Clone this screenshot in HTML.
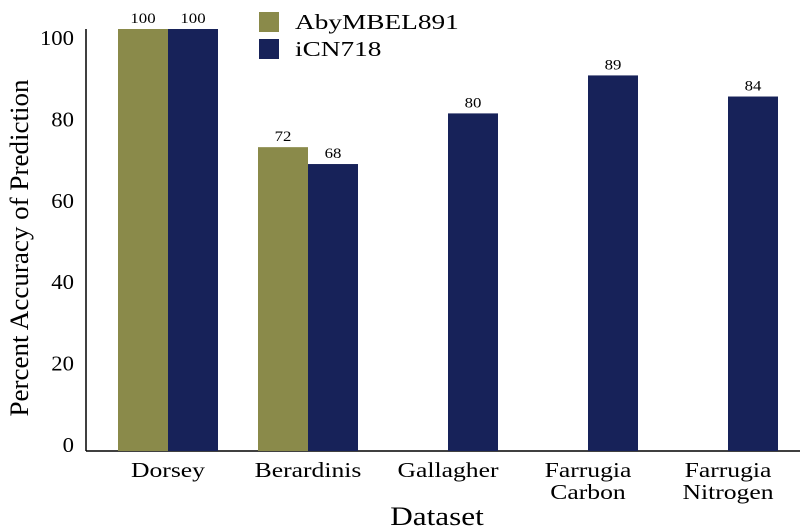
<!DOCTYPE html>
<html><head><meta charset="utf-8"><style>
body{margin:0;background:#fff}
svg{display:block;font-family:"Liberation Serif",serif}
</style></head><body>
<svg id="chart" width="800" height="532"></svg>
<script>
const categories=[["Dorsey"],["Berardinis"],["Gallagher"],["Farrugia","Carbon"],["Farrugia","Nitrogen"]];
const abyValues=[100,72,null,null,null];
const icnValues=[100,68,80,89,84];
const yTicks=[0,20,40,60,80,100];
const seriesNames=["AbyMBEL891","iCN718"];
const colors=["#8a8a4a","#172259"];
const NS="http://www.w3.org/2000/svg";
const svg=document.getElementById('chart');
function y(v){return 451-(v/100)*422;}
function yLabel(v){return 445-(v/100)*407;}
function xc(i){return 168+i*140;}
function el(tag,attrs,text){const e=document.createElementNS(NS,tag);for(const k in attrs)e.setAttribute(k,attrs[k]);if(text!=null)e.textContent=text;svg.appendChild(e);return e;}
function widen(t,f){const l=t.getComputedTextLength();t.setAttribute('textLength',l*f);t.setAttribute('lengthAdjust','spacingAndGlyphs');}
let a=el('line',{x1:86,y1:29,x2:86,y2:451,stroke:'#000','stroke-width':1.5});


a=el('line',{x1:86,y1:451,x2:800,y2:451,stroke:'#000','stroke-width':1.5});


yTicks.forEach(v=>{const t=el('text',{x:74,y:yLabel(v)+7,'text-anchor':'end','font-size':21},v);


widen(t,1.08);});
[abyValues,icnValues].forEach((vals,s)=>{vals.forEach((v,i)=>{if(v==null)return;
const x0=xc(i)+(s===0?-50:0);
const r=el('rect',{x:x0,y:y(v),width:50,height:451-y(v),fill:colors[s]});


const t=el('text',{x:x0+25,y:y(v)-6,'text-anchor':'middle','font-size':15},v);


widen(t,1.12);});});
categories.forEach((c,i)=>{c.forEach((ln,j)=>{const t=el('text',{x:xc(i),y:477+j*22,'text-anchor':'middle','font-size':21},ln);


widen(t,1.22);});});
seriesNames.forEach((n,s)=>{const r=el('rect',{x:259,y:12+s*27,width:20,height:20,fill:colors[s]});


const t=el('text',{x:295,y:29+s*27,'font-size':21},n);


widen(t,1.3);});
let t=el('text',{x:437,y:525,'text-anchor':'middle','font-size':26},'Dataset');


widen(t,1.2);
t=el('text',{x:0,y:0,'text-anchor':'middle','font-size':26,transform:'translate(28,248) rotate(-90)'},'Percent Accuracy of Prediction');


widen(t,1.04);
</script>
</body></html>
